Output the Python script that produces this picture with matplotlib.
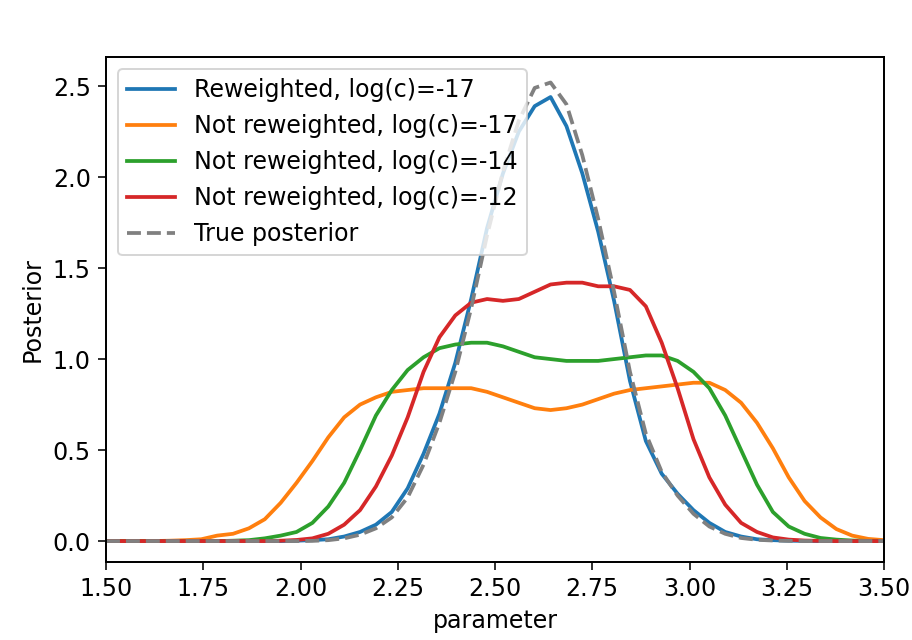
import numpy as np
import matplotlib
matplotlib.use('Agg')
import matplotlib.pyplot as plt

# parameter grid (50 points between 1.5 and 3.5)
param = np.linspace(1.5, 3.5, 50)

# values, one per grid point
reweighted_17 = [0, 0, 0, 0, 0, 0, 0, 0, 0, 0,
                 0, 0, 0.002, 0.005, 0.01, 0.025, 0.05, 0.09, 0.16, 0.29,
                 0.48, 0.70, 0.98, 1.33, 1.72, 2.02, 2.25, 2.39, 2.44, 2.28,
                 2.02, 1.70, 1.32, 0.88, 0.55, 0.37, 0.26, 0.17, 0.10, 0.05,
                 0.025, 0.01, 0.005, 0.002, 0.001, 0, 0, 0, 0, 0]

not_reweighted_17 = [0, 0, 0, 0, 0.002, 0.005, 0.01, 0.03, 0.04, 0.07,
                     0.12, 0.21, 0.32, 0.44, 0.57, 0.68, 0.75, 0.79, 0.82, 0.83,
                     0.84, 0.84, 0.84, 0.84, 0.82, 0.79, 0.76, 0.73, 0.72, 0.73,
                     0.75, 0.78, 0.81, 0.83, 0.84, 0.85, 0.86, 0.87, 0.87, 0.83,
                     0.76, 0.65, 0.51, 0.35, 0.22, 0.13, 0.066, 0.03, 0.012, 0.005]

not_reweighted_14 = [0, 0, 0, 0, 0, 0, 0, 0, 0.002, 0.005,
                     0.015, 0.03, 0.05, 0.10, 0.19, 0.32, 0.50, 0.69, 0.83, 0.94,
                     1.01, 1.06, 1.08, 1.09, 1.09, 1.07, 1.04, 1.01, 1.00, 0.99,
                     0.99, 0.99, 1.00, 1.01, 1.02, 1.02, 0.99, 0.93, 0.84, 0.69,
                     0.50, 0.31, 0.16, 0.08, 0.04, 0.017, 0.008, 0.003, 0.001, 0]

not_reweighted_12 = [0, 0, 0, 0, 0, 0, 0, 0, 0, 0,
                     0, 0.002, 0.006, 0.015, 0.04, 0.09, 0.17, 0.30, 0.47, 0.68,
                     0.93, 1.12, 1.24, 1.31, 1.33, 1.32, 1.33, 1.37, 1.41, 1.42,
                     1.42, 1.40, 1.40, 1.38, 1.29, 1.09, 0.84, 0.56, 0.35, 0.20,
                     0.10, 0.05, 0.02, 0.008, 0.003, 0.001, 0, 0, 0, 0]

true_posterior = [0, 0, 0, 0, 0, 0, 0, 0, 0, 0,
                  0, 0, 0, 0.001, 0.005, 0.015, 0.035, 0.07, 0.13, 0.24,
                  0.42, 0.65, 0.93, 1.28, 1.68, 2.03, 2.31, 2.49, 2.52, 2.40,
                  2.12, 1.77, 1.37, 0.93, 0.59, 0.38, 0.25, 0.15, 0.08, 0.04,
                  0.017, 0.007, 0.003, 0.001, 0, 0, 0, 0, 0, 0]

plt.rcParams['font.size'] = 12
plt.rcParams['lines.linewidth'] = 1.9
plt.rcParams['axes.linewidth'] = 1.0
plt.rcParams['xtick.major.size'] = 4.2
plt.rcParams['ytick.major.size'] = 4.2

dpi = 142.5
fig = plt.figure(figsize=(912 / dpi, 640 / dpi), dpi=dpi)
ax = fig.add_axes([106 / 912, 78 / 640, 778 / 912, 505 / 640])

ax.plot(param, reweighted_17, label='Reweighted, log(c)=-17')
ax.plot(param, not_reweighted_17, label='Not reweighted, log(c)=-17')
ax.plot(param, not_reweighted_14, label='Not reweighted, log(c)=-14')
ax.plot(param, not_reweighted_12, label='Not reweighted, log(c)=-12')
ax.plot(param, true_posterior, '--', color='gray', label='True posterior')

ax.set_xlim(1.5, 3.5)
ax.set_ylim(-0.115, 2.66)
ax.set_xlabel('parameter')
ax.set_ylabel('Posterior')
ax.legend(loc='upper left')

fig.savefig('out.png', dpi=dpi)
